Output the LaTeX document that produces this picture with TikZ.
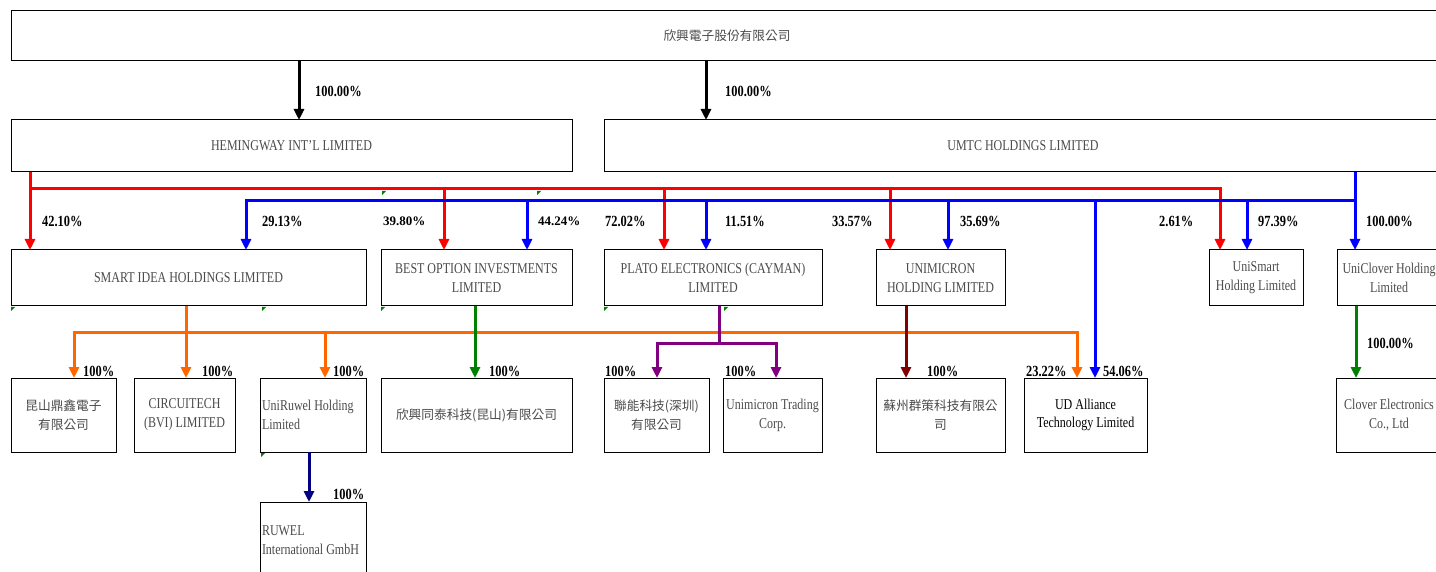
\documentclass[tikz,border=0pt]{standalone}
\usepackage{fontspec}
\setmainfont{Liberation Serif}[FakeStretch=0.8]
\newfontfamily\plainserif{Liberation Serif}
\newfontfamily\cjk{Noto Sans CJK TC}
\usetikzlibrary{arrows.meta}
\definecolor{boxtext}{RGB}{75,75,75}
\definecolor{orangeline}{RGB}{255,102,0}
\definecolor{greenline}{RGB}{0,128,0}
\definecolor{purpleline}{RGB}{128,0,128}
\definecolor{maroonline}{RGB}{128,0,0}
\definecolor{navyline}{RGB}{0,0,128}
\definecolor{redline}{RGB}{255,0,0}
\definecolor{blueline}{RGB}{0,0,255}
\tikzset{
  box/.style={draw=black, line width=1pt, inner sep=0pt, outer sep=0pt, text=boxtext, align=center},
  lbox/.style={box, align=flush left, inner xsep=2pt},
  ck/.style={font=\cjk\fontsize{12.7}{19}\selectfont},
  tip/.tip={Triangle[width=10pt,length=11pt]},
  arr/.style={line width=3pt, -tip},
  arr2/.style={line width=3pt, tip-tip},
  bus/.style={line width=3pt},
  pct/.style={font=\bfseries\fontsize{15.5}{18}\selectfont, inner sep=0pt, anchor=west, text=black},
  pcts/.style={font=\plainserif\bfseries\fontsize{13}{16}\selectfont, inner sep=0pt, anchor=west, text=black},
  gmark/.style={fill=greenline}
}
\begin{document}
\begin{tikzpicture}[x=1pt, y=-1pt, font=\fontsize{15}{19}\selectfont]
\useasboundingbox (0,0) rectangle (1436,572);
\fill[white] (0,0) rectangle (1436,572);
\clip (0,0) rectangle (1436,572);

% ---- boxes ----
\node[box, ck, minimum width=1432, minimum height=50] (top) at (727,36) {欣興電子股份有限公司};
\node[box, minimum width=561, minimum height=52] (hem) at (291.5,146) {HEMINGWAY INT'L LIMITED};
\node[box, minimum width=838, minimum height=52] (umtc) at (1023,146) {UMTC HOLDINGS LIMITED};

\node[box, minimum width=355, minimum height=56] (si) at (188.5,278) {SMART IDEA HOLDINGS LIMITED};
\node[box, minimum width=191, minimum height=56] (bo) at (476.5,278) {BEST OPTION INVESTMENTS\\LIMITED};
\node[box, minimum width=218, minimum height=56] (pl) at (713,278) {PLATO ELECTRONICS (CAYMAN)\\LIMITED};
\node[box, minimum width=129, minimum height=56] (uh) at (940.5,278) {UNIMICRON\\HOLDING LIMITED};
\node[box, minimum width=94, minimum height=56] (us) at (1256,278) {UniSmart\\Holding Limited};
\node[box, minimum width=104, minimum height=56] (uc) at (1389,278) {UniClover Holding\\Limited};

\node[box, ck, minimum width=105, minimum height=74] (ks) at (63.5,415) {昆山鼎鑫電子\\有限公司};
\node[box, minimum width=101, minimum height=74] (ct) at (184.5,415) {CIRCUITECH\\(BVI) LIMITED};
\node[lbox, text width=102, minimum height=74] (ur) at (313,415) {UniRuwel Holding\\Limited};
\node[box, ck, minimum width=191, minimum height=74] (xt) at (476.5,415) {欣興同泰科技(昆山)有限公司};
\node[box, ck, minimum width=105, minimum height=74] (ln) at (656.5,415) {聯能科技(深圳)\\有限公司};
\node[box, minimum width=99, minimum height=74] (ut) at (772.5,415) {Unimicron Trading\\Corp.};
\node[box, ck, minimum width=129, minimum height=74] (sz) at (940.5,415) {蘇州群策科技有限公\\司};
\node[box, text=black, minimum width=123, minimum height=74, font=\fontsize{15}{18}\selectfont] (ud) at (1085.5,415) {UD Alliance\\Technology Limited};
\node[box, minimum width=106, minimum height=74] (ce) at (1389,415) {Clover Electronics\\Co., Ltd};
\node[lbox, text width=102, minimum height=77] (rw) at (313,540.5) {RUWEL\\International GmbH};

% ---- black ----
\draw[arr, black] (top.south -| 299,0) -- (hem.north -| 299,0);
\draw[arr, black] (top.south -| 706,0) -- (umtc.north -| 706,0);

% ---- red (Hemingway) ----
\draw[arr, redline] (hem.south -| 30,0) -- (si.north -| 30,0);
\draw[arr, redline] (30,189) -| (us.north -| 1220,0);
\draw[arr, redline] (444,189) -- (bo.north -| 444,0);
\draw[arr, redline] (664,189) -- (pl.north -| 664,0);
\draw[arr, redline] (890,189) -- (uh.north -| 890,0);

% ---- blue (UMTC) ----
\draw[arr, blueline] (umtc.south -| 1355,0) -- (uc.north -| 1355,0);
\draw[arr, blueline] (1355,201) -| (si.north -| 246,0);
\draw[arr, blueline] (527,201) -- (bo.north -| 527,0);
\draw[arr, blueline] (706,201) -- (pl.north -| 706,0);
\draw[arr, blueline] (948,201) -- (uh.north -| 948,0);
\draw[arr, blueline] (1095,201) -- (ud.north -| 1095,0);
\draw[arr, blueline] (1247,201) -- (us.north -| 1247,0);

% ---- orange (Smart Idea) ----
\draw[arr, orangeline] (si.south -| 186,0) -- (ct.north -| 186,0);
\draw[arr2, orangeline] (ks.north -| 74,0) -- (74,332) -- (1077,332) -- (ud.north -| 1077,0);
\draw[arr, orangeline] (325,332) -- (ur.north -| 325,0);

% ---- others ----
\draw[arr, greenline] (bo.south -| 475,0) -- (xt.north -| 475,0);
\draw[bus, purpleline] (pl.south -| 719,0) -- (719,343);
\draw[arr2, purpleline] (ln.north -| 657,0) -- (657,343) -- (776,343) -- (ut.north -| 776,0);
\draw[arr, maroonline] (uh.south -| 906,0) -- (sz.north -| 906,0);
\draw[arr, greenline] (uc.south -| 1356,0) -- (ce.north -| 1356,0);
\draw[arr, navyline] (ur.south -| 309,0) -- (rw.north -| 309,0);

% ---- percentages ----
\node[pct] (p01) at (315,91) {100.00\%};
\node[pct] (p02) at (725,91) {100.00\%};
\node[pct] (p03) at (42,221) {42.10\%};
\node[pct] (p04) at (262,221) {29.13\%};
\node[pcts] (p05) at (383,221) {39.80\%};
\node[pcts] (p06) at (538,221) {44.24\%};
\node[pct] (p07) at (605,221) {72.02\%};
\node[pct] (p08) at (725,221) {11.51\%};
\node[pct] (p09) at (832,221) {33.57\%};
\node[pct] (p10) at (960,221) {35.69\%};
\node[pct] (p11) at (1159,221) {2.61\%};
\node[pct] (p12) at (1258,221) {97.39\%};
\node[pct] (p13) at (1366,221) {100.00\%};
\node[pct] (p14) at (83,371) {100\%};
\node[pct] (p15) at (202,371) {100\%};
\node[pct] (p16) at (333,371) {100\%};
\node[pct] (p17) at (489,371) {100\%};
\node[pct] (p18) at (605,371) {100\%};
\node[pct] (p19) at (725,371) {100\%};
\node[pct] (p20) at (927,371) {100\%};
\node[pct] (p21) at (1026,371) {23.22\%};
\node[pct] (p22) at (1103,371) {54.06\%};
\node[pct] (p23) at (1367,343) {100.00\%};
\node[pct] (p24) at (333,494) {100\%};

% ---- small green corner marks ----
\foreach \mx/\my in {11/307, 262/307, 381/307, 604/307, 724/307, 382/191, 537/191, 261/453}
  \fill[gmark] (\mx,\my) -- ++(4,0) -- ++(-4,4) -- cycle;
\end{tikzpicture}
\end{document}
